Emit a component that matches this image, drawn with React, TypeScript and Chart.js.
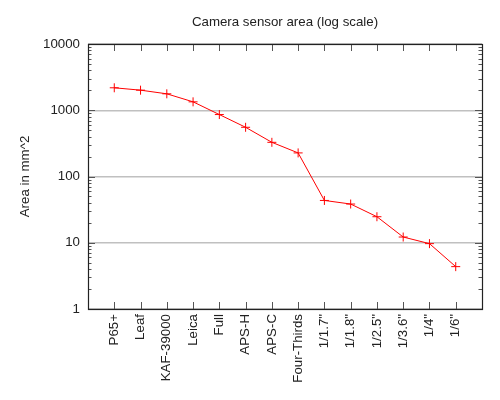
import React, { useEffect, useRef } from "react";
import { Chart, registerables } from "chart.js";
Chart.register(...registerables);

const categories = ["P65+", "Leaf", "KAF-39000", "Leica", "Full", "APS-H", "APS-C", "Four-Thirds", '1/1.7"', '1/1.8"', '1/2.5"', '1/3.6"', '1/4"', '1/6"'];
const areaValues = [2183, 2010, 1770, 1340, 861, 553, 328, 227, 43.5, 38.4, 24.7, 12.2, 9.7, 4.36];
const yTickValues = [1, 10, 100, 1000, 10000];
const titleText = "Camera sensor area (log scale)";
const yAxisTitle = "Area in mm^2";

const FONT = '"Liberation Sans", Arial, sans-serif';
const TEXT = "#222222";
const FSIZE = 13.3;

export default function App() {
  const ref = useRef<HTMLCanvasElement>(null);
  useEffect(() => {
    if (!ref.current) return;
    const frame = {
      id: "frame",
      afterDraw(chart: any) {
        const { ctx, chartArea: a, scales } = chart;
        const xs = scales.x;
        const ys = scales.y;
        ctx.save();
        ctx.strokeStyle = "#555555";
        ctx.lineWidth = 1;
        ctx.beginPath();
        categories.forEach((_, i) => {
          const px = Math.round(xs.getPixelForValue(i)) + 0.5;
          ctx.moveTo(px, a.bottom);
          ctx.lineTo(px, a.bottom - 7);
          ctx.moveTo(px, a.top);
          ctx.lineTo(px, a.top + 7);
        });
        for (let d = 0; d < yTickValues.length - 1; d++) {
          for (let m = 1; m <= 9; m++) {
            const v = m * yTickValues[d];
            const py = Math.round(ys.getPixelForValue(v)) + 0.5;
            const len = m === 1 ? 7 : 3.5;
            ctx.moveTo(a.left, py);
            ctx.lineTo(a.left + len, py);
            ctx.moveTo(a.right, py);
            ctx.lineTo(a.right - len, py);
          }
        }
        ctx.stroke();
        ctx.strokeStyle = "#222222";
        ctx.lineWidth = 1.2;
        ctx.strokeRect(Math.round(a.left) + 0.5, Math.round(a.top) + 0.5, Math.round(a.right - a.left), Math.round(a.bottom - a.top));
        ctx.fillStyle = TEXT;
        ctx.font = `${FSIZE}px ${FONT}`;
        ctx.textAlign = "center";
        ctx.textBaseline = "middle";
        ctx.fillText(titleText, (a.left + a.right) / 2, 22);
        ctx.translate(25, (a.top + a.bottom) / 2);
        ctx.rotate(-Math.PI / 2);
        ctx.fillText(yAxisTitle, 0, 0);
        ctx.restore();
      },
    };
    const chart = new Chart(ref.current, {
      type: "line",
      data: {
        datasets: [
          {
            data: areaValues.map((v, i) => ({ x: i, y: v })),
            borderColor: "#ff0000",
            borderWidth: 1,
            pointStyle: "cross",
            pointRadius: 4.5,
            pointBorderColor: "#ff0000",
            pointBorderWidth: 1,
            pointHoverRadius: 4.5,
            fill: false,
          },
        ],
      },
      options: {
        responsive: false,
        animation: false,
        devicePixelRatio: 1,
        layout: { padding: { top: 44, right: 18, left: 0, bottom: 0 } },
        plugins: { legend: { display: false }, title: { display: false }, tooltip: { enabled: false } },
        scales: {
          x: {
            type: "linear",
            min: -1,
            max: 14,
            afterBuildTicks: (s: any) => {
              s.ticks = categories.map((_, i) => ({ value: i }));
            },
            afterFit: (s: any) => {
              s.height = 91;
            },
            grid: { display: false, drawTicks: false },
            border: { display: false },
            ticks: {
              autoSkip: false,
              minRotation: 90,
              maxRotation: 90,
              padding: 5,
              color: TEXT,
              font: { family: FONT, size: FSIZE },
              callback: (v: any) => categories[v] ?? "",
            },
          },
          y: {
            type: "logarithmic",
            min: 1,
            max: 10000,
            afterBuildTicks: (s: any) => {
              s.ticks = yTickValues.map((v) => ({ value: v }));
            },
            afterFit: (s: any) => {
              s.width = 88;
            },
            grid: { color: "#c0c0c0", lineWidth: 1.5, drawTicks: false },
            border: { display: false },
            ticks: {
              padding: 8,
              color: TEXT,
              font: { family: FONT, size: FSIZE },
              callback: (v: any) => String(v),
            },
          },
        },
      },
      plugins: [frame],
    });
    return () => chart.destroy();
  }, []);
  return (
    <div style={{ position: "fixed", left: 0, top: 0, width: 500, height: 400, background: "#fff" }}>
      <canvas ref={ref} width={500} height={400} />
    </div>
  );
}
